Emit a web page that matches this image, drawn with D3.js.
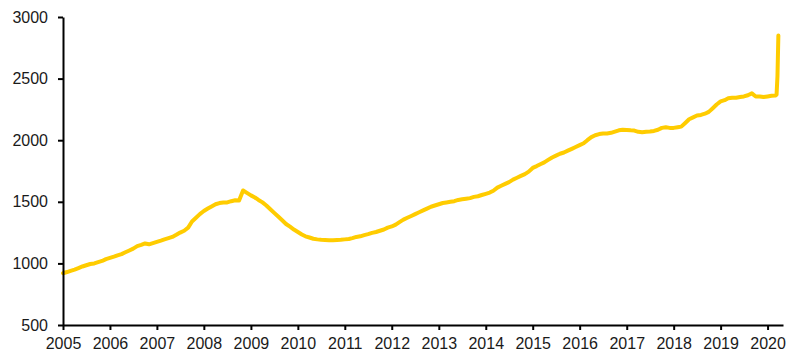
<!DOCTYPE html>
<html>
<head>
<meta charset="utf-8">
<script src="https://cdn.jsdelivr.net/npm/d3@7"></script>
<style>
  html, body { margin: 0; padding: 0; background: #fff; }
  svg { display: block; }
  .axis text { font-family: "Liberation Sans", Arial, sans-serif; font-size: 16px; fill: #1a1a1a; }
</style>
</head>
<body>
<svg id="chart" width="800" height="356"></svg>
<script>
// ---- Data (monthly estimates) ----
const years = [2005, 2006, 2007, 2008, 2009, 2010, 2011, 2012, 2013, 2014, 2015, 2016, 2017, 2018, 2019];
const v2005 = [920, 930, 940, 950, 962, 975, 985, 995, 1000, 1010, 1020, 1035];
const v2006 = [1045, 1055, 1065, 1075, 1090, 1105, 1120, 1140, 1150, 1162, 1155, 1165];
const v2007 = [1175, 1185, 1195, 1205, 1215, 1232, 1250, 1265, 1290, 1340, 1370, 1400];
const v2008 = [1425, 1445, 1462, 1480, 1490, 1495, 1495, 1505, 1512, 1510, 1592, 1572];
const v2009 = [1552, 1535, 1515, 1495, 1470, 1440, 1410, 1380, 1350, 1320, 1298, 1275];
const v2010 = [1255, 1235, 1220, 1210, 1200, 1195, 1192, 1190, 1188, 1188, 1190, 1192];
const v2011 = [1195, 1198, 1205, 1215, 1220, 1230, 1238, 1248, 1255, 1265, 1275, 1290];
const v2012 = [1300, 1315, 1335, 1355, 1370, 1385, 1400, 1415, 1430, 1445, 1460, 1470];
const v2013 = [1480, 1490, 1495, 1500, 1505, 1515, 1520, 1525, 1530, 1540, 1545, 1555];
const v2014 = [1565, 1575, 1590, 1615, 1630, 1645, 1660, 1680, 1695, 1710, 1725, 1745];
const v2015 = [1775, 1790, 1805, 1820, 1840, 1860, 1875, 1890, 1900, 1915, 1930, 1945];
const v2016 = [1960, 1975, 2000, 2025, 2040, 2050, 2055, 2055, 2060, 2070, 2080, 2085];
const v2017 = [2083, 2080, 2078, 2068, 2065, 2068, 2070, 2075, 2085, 2100, 2105, 2100];
const v2018 = [2100, 2105, 2110, 2140, 2170, 2185, 2200, 2205, 2215, 2230, 2260, 2290];
const v2019 = [2315, 2325, 2340, 2345, 2345, 2350, 2355, 2365, 2380, 2355, 2355, 2350];
const tailDates = ["2020-01-01", "2020-02-01", "2020-03-01", "2020-03-11", "2020-03-18", "2020-03-25"];
const tailValues = [2355, 2360, 2362, 2370, 2520, 2850];

const yTicks = [500, 1000, 1500, 2000, 2500, 3000];
const xStart = "2005-01-01", xEnd = "2020-04-30";

// ---- Build series ----
const yearly = [v2005, v2006, v2007, v2008, v2009, v2010, v2011, v2012, v2013, v2014, v2015, v2016, v2017, v2018, v2019];
const parse = d3.timeParse("%Y-%m-%d");
const data = [];
years.forEach((yr, i) => {
  yearly[i].forEach((v, m) => data.push({ date: new Date(yr, m, 1), value: v }));
});
tailDates.forEach((d, i) => data.push({ date: parse(d), value: tailValues[i] }));

// ---- Layout ----
const svg = d3.select("#chart");
const W = 800, H = 356;
const margin = { top: 17, right: 17, bottom: 31, left: 63 };

const x = d3.scaleTime()
  .domain([parse(xStart), parse(xEnd)])
  .range([margin.left, W - margin.right]);
const y = d3.scaleLinear()
  .domain([500, 3000])
  .range([H - margin.bottom, margin.top]);

// line
svg.append("path")
  .datum(data)
  .attr("fill", "none")
  .attr("stroke", "#FFCC00")
  .attr("stroke-width", 4)
  .attr("stroke-linejoin", "round")
  .attr("stroke-linecap", "round")
  .attr("d", d3.line().x(d => x(d.date)).y(d => y(d.value)));

// axes
svg.append("g")
  .attr("class", "axis")
  .attr("transform", `translate(0,${H - margin.bottom})`)
  .call(d3.axisBottom(x).ticks(d3.timeYear.every(1)).tickFormat(d3.timeFormat("%Y"))
    .tickSizeInner(5).tickSizeOuter(0).tickPadding(8));

svg.append("g")
  .attr("class", "axis")
  .attr("transform", `translate(${margin.left},0)`)
  .call(d3.axisLeft(y).tickValues(yTicks).tickFormat(d3.format("d"))
    .tickSizeInner(5).tickSizeOuter(0).tickPadding(10));

svg.selectAll(".axis path.domain").attr("stroke", "#000").attr("stroke-width", 2);
svg.selectAll(".axis .tick line").attr("stroke", "#000").attr("stroke-width", 2);
</script>
</body>
</html>
